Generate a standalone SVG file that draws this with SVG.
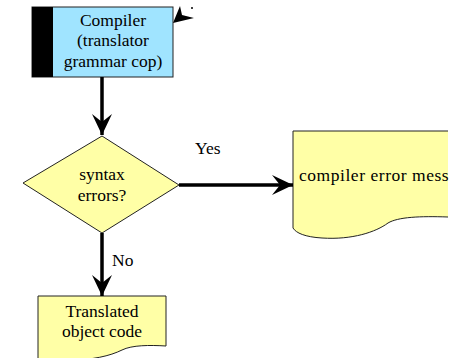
<svg xmlns="http://www.w3.org/2000/svg" width="462" height="358" viewBox="0 0 462 358">
<style>
text{font-family:'Liberation Serif',serif;font-size:17.5px;fill:#000}
.c{text-anchor:middle}
.b{stroke:#222;stroke-width:1}
.ln{stroke:#000;stroke-width:3.5;fill:none}
</style>
<defs>
<marker id="ah" markerUnits="userSpaceOnUse" markerWidth="24" markerHeight="22" viewBox="-22 -11 24 22" refX="0" refY="0" orient="auto">
<path d="M0,0 L-21,-10 L-13,0 L-21,10 Z" fill="#000"/>
</marker>
</defs>
<rect width="462" height="358" fill="#fff"/>
<g id="compiler">
<rect x="32" y="7" width="141" height="70" fill="#a0e4ff" class="b"/>
<rect x="32" y="7" width="21" height="70" fill="#000"/>
<text class="c" x="113" y="26">Compiler</text>
<text class="c" x="113" y="46">(translator</text>
<text class="c" x="113" y="67">grammar cop)</text>
</g>
<g id="decision">
<polygon points="102,136 179,185 102,233 23,183" fill="#ffffa6" class="b"/>
<text class="c" x="102" y="180">syntax</text>
<text class="c" x="102" y="201">errors?</text>
</g>
<g id="errmsg">
<path d="M293,131 L448,131 L448,217 C420,216 398,217 388,223 C376,232 352,240 322,238 C305,237 296,233 293,228 Z" fill="#ffffa6"/>
<path d="M448,131 L293,131 L293,228 C296,233 305,237 322,238 C352,240 376,232 388,223 C398,217 420,216 448,217" fill="none" class="b"/>
<text x="299" y="181" textLength="158" lengthAdjust="spacing">compiler error messa</text>
<rect x="449" y="125" width="13" height="120" fill="#fff"/>
</g>
<g id="objcode">
<path d="M38,296 L166,296 L166,346 C150,345 132,345 122,350 C110,356 92,360 70,360 L38,360 Z" fill="#ffffa6" class="b"/>
<text class="c" x="102" y="317">Translated</text>
<text class="c" x="102" y="337">object code</text>
</g>
<g id="connectors">
<line class="ln" x1="102" y1="77" x2="102" y2="135" marker-end="url(#ah)"/>
<line class="ln" x1="179" y1="185" x2="293" y2="185" marker-end="url(#ah)"/>
<line class="ln" x1="102" y1="233" x2="102" y2="296" marker-end="url(#ah)"/>
<polygon points="173,23 180,6 182,15 194,18" fill="#000"/>
<circle cx="192" cy="8" r="1" fill="#000"/>
<text x="195" y="154">Yes</text>
<text x="112" y="266">No</text>
</g>
</svg>
